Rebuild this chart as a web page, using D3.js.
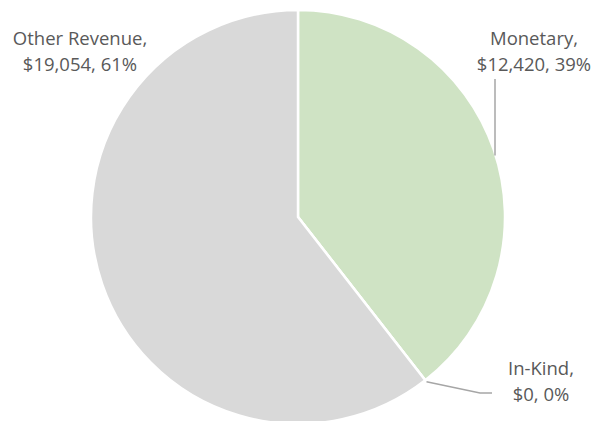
<!DOCTYPE html>
<html lang="en">
    <head>
        <meta charset="utf-8">
        <title>Revenue Pie</title>
        <script type="text/javascript" src="https://d3js.org/d3.v7.min.js"></script>
        <style type="text/css">
          body { margin:0; background:#fff; }
          svg { width:599px; height:421px; display:block; }
          .lbl { font-family: "Open Sans", sans-serif; font-size:18.5px; fill:#595959; }
        </style>
    </head>
    <body>
      <svg></svg>
      <script type="text/javascript">

        // data
        const categories = ["Monetary", "In-Kind", "Other Revenue"];
        const values = [12420, 0, 19054];
        const colors = ["#cfe3c4", "#cfe3c4", "#d9d9d9"];

        const svg = d3.select("svg");
        const cx = 298, cy = 217, radius = 207;

        const total = d3.sum(values);
        const data = categories.map((c, i) => ({name: c, value: values[i], color: colors[i]}));

        const pie = d3.pie().value(d => d.value).sort(null);
        const arcs = pie(data);
        const arc = d3.arc().innerRadius(0).outerRadius(radius);

        const g = svg.append("g").attr("transform", `translate(${cx},${cy})`);

        g.selectAll("path")
          .data(arcs)
          .enter()
          .append("path")
          .attr("d", arc)
          .attr("fill", d => d.data.color)
          .attr("stroke", "#fff")
          .attr("stroke-width", 2.5)
          .attr("stroke-linejoin", "round");

        // label placement (layout, relative to pie center)
        const labelPos = {
          "Monetary":      {x: 236, y: -172},
          "In-Kind":       {x: 243, y: 158},
          "Other Revenue": {x: -218, y: -172}
        };

        const fmt = d3.format("$,");
        arcs.forEach(a => {
          const p = labelPos[a.data.name];
          const t = g.append("text").attr("class", "lbl").attr("text-anchor", "middle")
            .attr("x", p.x).attr("y", p.y);
          t.append("tspan").attr("x", p.x).attr("dy", 0).text(a.data.name + ",");
          t.append("tspan").attr("x", p.x).attr("dy", 26)
            .text(fmt(a.data.value) + ", " + Math.round(a.data.value / total * 100) + "%");
        });

        // leader lines
        const lineColor = "#a6a6a6";
        // Monetary: vertical from label down to pie edge
        const mx = 197;
        const mEdge = -Math.sqrt(radius * radius - mx * mx);
        g.append("line")
          .attr("x1", mx).attr("y1", -138).attr("x2", mx).attr("y2", mEdge + 2)
          .attr("stroke", lineColor).attr("stroke-width", 1.5);

        // In-Kind: from arc point to label
        const ik = arcs[1];
        const ang = ik.startAngle;
        const px = (radius + 2) * Math.sin(ang), py = -(radius + 2) * Math.cos(ang);
        g.append("polyline")
          .attr("points", `${px},${py} ${182},${176} ${194},${176}`)
          .attr("fill", "none")
          .attr("stroke", lineColor).attr("stroke-width", 1.5);
      </script>
    </body>
</html>
